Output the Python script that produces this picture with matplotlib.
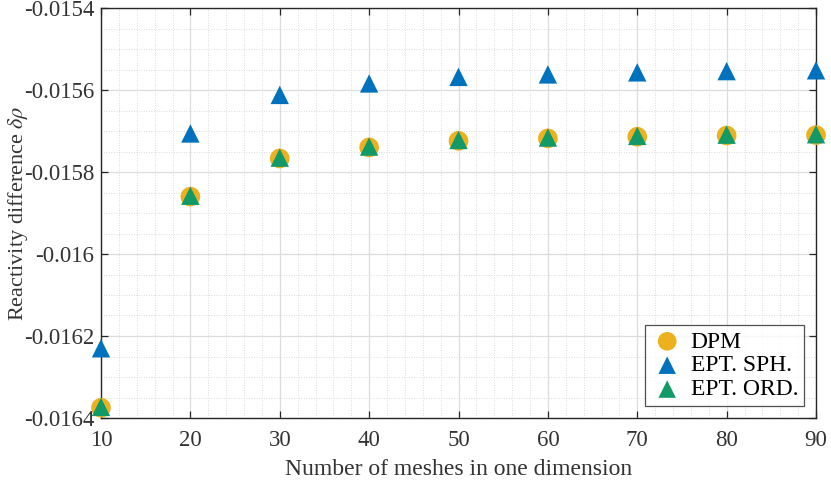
import matplotlib
matplotlib.use("Agg")
import matplotlib.pyplot as plt
from matplotlib.ticker import MultipleLocator

plt.rcParams['font.family'] = ['Liberation Serif', 'DejaVu Serif']
plt.rcParams['mathtext.fontset'] = 'stix'

meshes = [10, 20, 30, 40, 50, 60, 70, 80, 90]
dpm = [-0.016375, -0.015860, -0.015767, -0.015740, -0.015724, -0.015718, -0.015714, -0.015711, -0.015710]
ept_sph = [-0.016230, -0.015706, -0.015612, -0.015584, -0.015568, -0.015562, -0.015557, -0.015554, -0.015552]
ept_ord = [-0.016373, -0.015858, -0.015765, -0.015738, -0.015722, -0.015716, -0.015712, -0.015709, -0.015708]
yticks = [-0.0164, -0.0162, -0.016, -0.0158, -0.0156, -0.0154]
ytick_labels = ['-0.0164', '-0.0162', '-0.016', '-0.0158', '-0.0156', '-0.0154']

c_dpm = '#EDB120'
c_sph = '#0072BD'
c_ord = '#119A68'

FS = 16.5

fig = plt.figure(figsize=(8.31, 4.8), dpi=100)
ax = fig.add_axes([101/831, 1 - 418/480, (816-101)/831, (418-8)/480])

ax.scatter(meshes, dpm, s=200, marker='o', color=c_dpm, edgecolors='none', label='DPM', zorder=3, clip_on=False)
ax.scatter(meshes, ept_sph, s=175, marker='^', color=c_sph, edgecolors='none', label='EPT. SPH.', zorder=4, clip_on=False)
ax.scatter(meshes, ept_ord, s=175, marker='^', color=c_ord, edgecolors='none', label='EPT. ORD.', zorder=5, clip_on=False)

ax.set_xlim(10, 90)
ax.set_ylim(-0.0164, -0.0154)
ax.set_xticks(meshes)
ax.set_yticks(yticks)
ax.set_yticklabels(ytick_labels)
ax.xaxis.set_minor_locator(MultipleLocator(2))
ax.yaxis.set_minor_locator(MultipleLocator(0.00005))

ax.grid(which='major', color='#DCDCDC', linewidth=0.9, zorder=0)
ax.grid(which='minor', color='#D0D0D0', linewidth=0.6, linestyle=(0, (1, 2)), zorder=0)
ax.set_axisbelow(True)

for s in ax.spines.values():
    s.set_color('#262626')
    s.set_linewidth(1.0)

ax.tick_params(which='major', direction='in', length=5, width=0.9, colors='#262626',
               labelsize=FS, top=True, right=True)
ax.tick_params(axis='x', which='major', pad=9)
ax.tick_params(axis='y', which='major', pad=5)
ax.tick_params(which='minor', length=0, top=True, right=True)
for lbl in ax.get_xticklabels() + ax.get_yticklabels():
    lbl.set_color('#333333')
for lbl in ax.get_yticklabels():
    lbl.set_verticalalignment('center_baseline')

ax.set_xlabel('Number of meshes in one dimension', fontsize=FS + 0.5, color='#333333')
ax.xaxis.set_label_coords(0.5, -0.1)
ax.set_ylabel(r'Reactivity difference $\delta\rho$', fontsize=FS - 0.5, color='#333333')
ax.yaxis.set_label_coords(-0.099, 0.5)

leg = ax.legend(loc='lower right', fontsize=FS + 0.5, frameon=True, fancybox=False,
                edgecolor='#262626', handletextpad=0.3, borderpad=0.25, labelspacing=0.1,
                borderaxespad=0.5, handlelength=1.4, markerscale=0.95)
leg.get_frame().set_linewidth(0.9)

fig.savefig('out.png', dpi=100)
